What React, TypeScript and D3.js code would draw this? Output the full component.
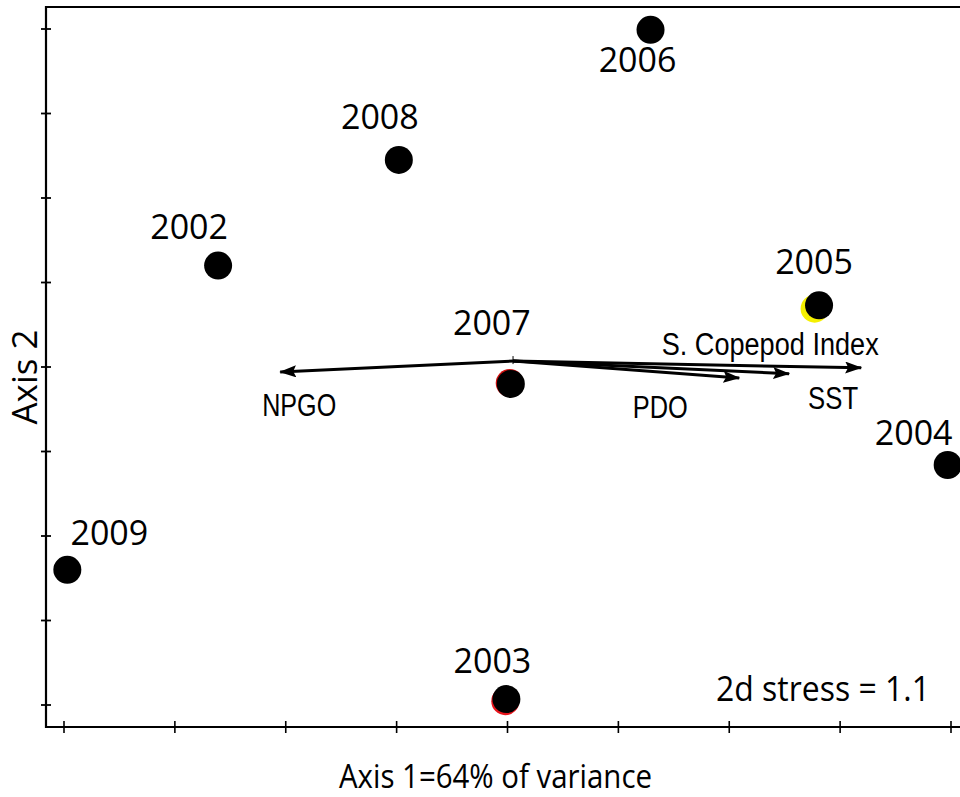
import React from "react";
import * as d3 from "d3";

// NMDS ordination of years, with environmental vectors overlaid
const years = ["2002", "2003", "2004", "2005", "2006", "2007", "2008", "2009"];
const axis1 = [-2.61, -0.01, 3.97, 2.81, 1.29, 0.03, -0.98, -3.97];
const axis2 = [1.2, -3.93, -1.16, 0.73, 3.99, -0.2, 2.45, -2.4];

// Year-label placement relative to each point (pixels)
const labelDx = [-29, -14, -34, -5, -13, -19, -19, 42];
const labelDy = [-27, -26, -20, -31, 42, -49, -31, -25];

// Markers of other groups partly hidden beneath the black points
const underYears = ["2003", "2005", "2007"];
const underAxis1 = [-0.02, 2.77, 0.02];
const underAxis2 = [-3.955, 0.69, -0.19];
const underColors = ["#e8141c", "#f5f000", "#d01010"];

// Environmental vectors (origin and tip in ordination units)
const vectorNames = ["NPGO", "S. Copepod Index", "SST", "PDO"];
const vectorX0 = 0.05;
const vectorY0 = 0.07;
const vectorX1 = [-2.05, 3.19, 2.54, 2.09];
const vectorY1 = [-0.06, -0.01, -0.08, -0.13];

const tickValues = [-4, -3, -2, -1, 0, 1, 2, 3, 4];

export default function App() {
  const width = 960;
  const height = 797;
  const x = d3.scaleLinear().domain([-4, 4]).range([64, 951]);
  const y = d3.scaleLinear().domain([-4, 4]).range([705, 29]);

  const left = 46;
  const top = 7;
  const bottom = 727;

  // Vector label layout: dx, dy from the arrow tip, fitted width
  const vecLabel = [
    { dx: 19, dy: 44, w: 74 },
    { dx: -91, dy: -13, w: 217 },
    { dx: 44, dy: 35, w: 50 },
    { dx: -79, dy: 40, w: 55 },
  ];

  const calibriLike = "'Open Sans', 'Lato', sans-serif";
  const arialLike = "'Liberation Sans', Arial, sans-serif";
  const line = d3.line<[number, number]>();

  return (
    <svg
      width={width}
      height={height}
      style={{ position: "absolute", left: 0, top: 0, background: "#fff" }}
    >
      <defs>
        <marker
          id="arrowhead"
          markerUnits="userSpaceOnUse"
          markerWidth={20}
          markerHeight={14}
          refX={16}
          refY={6}
          orient="auto"
        >
          <path d="M0,0 L17,6 L0,12 L3,6 Z" fill="#000" />
        </marker>
      </defs>

      {/* Frame */}
      <path
        d={`M${width + 2},${top} H${left} V${bottom} H${width + 2}`}
        fill="none"
        stroke="#000"
        strokeWidth={2.2}
      />

      {/* Ticks crossing the axes */}
      {tickValues.map((t) => (
        <line
          key={"xt" + t}
          x1={x(t)}
          x2={x(t)}
          y1={bottom - 6}
          y2={bottom + 6}
          stroke="#000"
          strokeWidth={1.6}
        />
      ))}
      {tickValues.map((t) => (
        <line
          key={"yt" + t}
          x1={left - 5}
          x2={left + 5}
          y1={y(t)}
          y2={y(t)}
          stroke="#000"
          strokeWidth={1.8}
        />
      ))}

      {/* Vectors */}
      {vectorNames.map((name, i) => (
        <path
          key={"v" + name}
          d={line([
            [x(vectorX0), y(vectorY0)],
            [x(vectorX1[i]), y(vectorY1[i])],
          ]) as string}
          stroke="#000"
          strokeWidth={3}
          fill="none"
          markerEnd="url(#arrowhead)"
        />
      ))}
      {/* Origin cross */}
      <path
        d={`M${x(vectorX0) - 3},${y(vectorY0)} H${x(vectorX0) + 3} M${x(vectorX0)},${y(vectorY0) - 5} V${y(vectorY0) + 3}`}
        stroke="#000"
        strokeWidth={1}
      />
      {vectorNames.map((name, i) => (
        <text
          key={"vl" + name}
          x={x(vectorX1[i]) + vecLabel[i].dx - vecLabel[i].w / 2}
          y={y(vectorY1[i]) + vecLabel[i].dy}
          fontFamily={arialLike}
          fontSize={31}
          textLength={vecLabel[i].w}
          lengthAdjust="spacingAndGlyphs"
          fill="#000"
        >
          {name}
        </text>
      ))}

      {/* Hidden markers */}
      {underYears.map((yr, i) => (
        <circle
          key={"u" + yr}
          cx={x(underAxis1[i])}
          cy={y(underAxis2[i])}
          r={14}
          fill={underColors[i]}
        />
      ))}

      {/* Year points */}
      {years.map((yr, i) => (
        <circle key={"p" + yr} cx={x(axis1[i])} cy={y(axis2[i])} r={14} fill="#000" />
      ))}
      {years.map((yr, i) => (
        <text
          key={"l" + yr}
          x={x(axis1[i]) + labelDx[i]}
          y={y(axis2[i]) + labelDy[i]}
          textAnchor="middle"
          fontFamily={calibriLike}
          fontSize={34}
          fill="#000"
        >
          {yr}
        </text>
      ))}

      {/* Stress annotation */}
      <text
        x={716}
        y={701}
        fontFamily={calibriLike}
        fontSize={34}
        textLength={214}
        lengthAdjust="spacingAndGlyphs"
        fill="#000"
      >
        2d stress = 1.1
      </text>

      {/* Axis titles */}
      <text
        x={339}
        y={788}
        fontFamily={calibriLike}
        fontSize={33}
        textLength={313}
        lengthAdjust="spacingAndGlyphs"
        fill="#000"
      >
        Axis 1=64% of variance
      </text>
      <text
        transform="translate(37,377) rotate(-90)"
        textAnchor="middle"
        fontFamily={calibriLike}
        fontSize={35}
        fill="#000"
      >
        Axis 2
      </text>
    </svg>
  );
}
